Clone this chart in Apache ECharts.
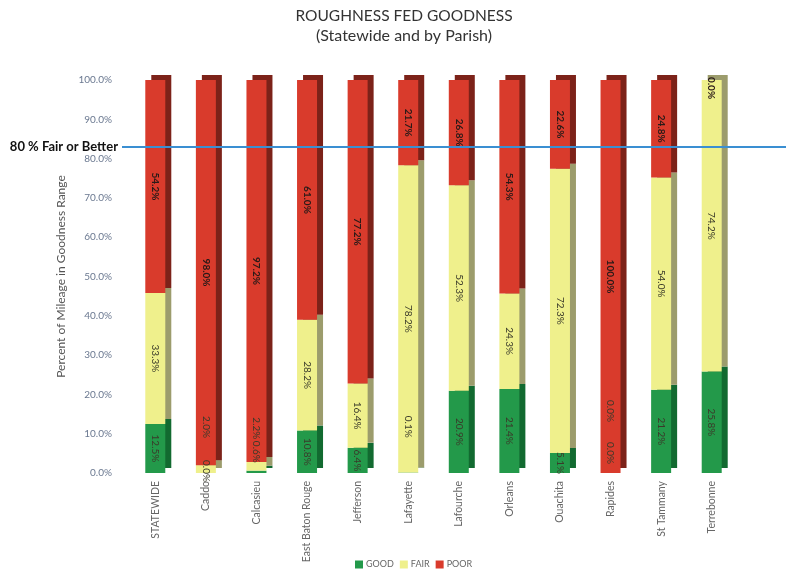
<!DOCTYPE html>
<html><head><meta charset="utf-8">
<script src="https://cdn.jsdelivr.net/npm/echarts@6/dist/echarts.min.js"></script>
<style>html,body{margin:0;padding:0;background:#fff}#c{width:786px;height:572px}</style>
</head><body><div id="c"></div>
<script>
var categories = ['STATEWIDE','Caddo','Calcasieu','East Baton Rouge','Jefferson','Lafayette','Lafourche','Orleans','Ouachita','Rapides','St Tammany','Terrebonne'];
var good = [12.5, 0.0, 0.6, 10.8, 6.4, 0.1, 20.9, 21.4, 5.1, 0.0, 21.2, 25.8];
var fair = [33.3, 2.0, 2.2, 28.2, 16.4, 78.2, 52.3, 24.3, 72.3, 0.0, 54.0, 74.2];
var poor = [54.2, 98.0, 97.2, 61.0, 77.2, 21.7, 26.8, 54.3, 22.6, 100.0, 24.8, 0.0];
var yTicks = [0,10,20,30,40,50,60,70,80,90,100];
var targetLine = 83;
var targetLabel = '80 % Fair or Better';

// style: vertical label shifts (px, screen, negative = up) for labels of tiny segments
var labelShift = {
  'Caddo|GOOD': -2, 'Caddo|FAIR': -42,
  'Calcasieu|GOOD': -20, 'Calcasieu|FAIR': -38,
  'Lafayette|GOOD': -46,
  'Rapides|GOOD': -20, 'Rapides|FAIR': -62,
  'Terrebonne|POOR': 8
};

function mk(name, vals, face, side, bold) {
  return {
    name: name, type: 'bar', stack: 'all', barWidth: 20,
    xAxisIndex: 0, yAxisIndex: 0,
    itemStyle: { color: face, shadowColor: side, shadowBlur: 0, shadowOffsetX: 6, shadowOffsetY: -5 },
    label: {
      show: true, position: 'inside', rotate: -90,
      fontSize: 10, color: bold ? '#2a1a18' : '#3a3a2a', fontWeight: bold ? 'bold' : 'normal',
      fontFamily: 'Lato',
      formatter: function (p) { return p.value.toFixed(1) + '%'; }
    },
    data: vals.map(function (v, i) {
      var key = categories[i] + '|' + name;
      if (labelShift.hasOwnProperty(key)) {
        return { value: v, label: { offset: [labelShift[key], 0] } };
      }
      return v;
    })
  };
}

var chart = echarts.init(document.getElementById('c'));
chart.setOption({
  animation: false,
  textStyle: { fontFamily: 'Lato' },
  title: {
    text: 'ROUGHNESS FED GOODNESS', subtext: '(Statewide and by Parish)',
    left: 399, top: 3, textAlign: 'center', itemGap: 4,
    textStyle: { fontSize: 15.5, fontWeight: 'normal', color: '#333', fontFamily: 'Lato' },
    subtextStyle: { fontSize: 16, color: '#333', fontFamily: 'Lato' }
  },
  legend: {
    data: ['GOOD','FAIR','POOR'], left: 350, top: 555, itemWidth: 8, itemHeight: 8, itemGap: 6,
    icon: 'rect', textStyle: { fontSize: 9, color: '#666', padding: [0, 0, 0, -2] }
  },
  grid: [
    { left: 130, right: 49, top: 80, bottom: 99 },
    { left: 122, right: 0, top: 80, bottom: 99 }
  ],
  xAxis: [
    { type: 'category', data: categories, gridIndex: 0,
      axisLine: { show: false }, axisTick: { show: false },
      axisLabel: { rotate: 90, fontSize: 10.5, color: '#666', margin: 8, interval: 0 } },
    { type: 'value', gridIndex: 1, min: 0, max: 1, show: false }
  ],
  yAxis: [
    { type: 'value', gridIndex: 0, min: 0, max: 100, interval: 10,
      name: 'Percent of Mileage in Goodness Range', nameLocation: 'middle', nameGap: 60,
      nameTextStyle: { fontSize: 12, color: '#555' },
      axisLine: { show: false }, axisTick: { show: false }, splitLine: { show: false },
      axisLabel: { fontSize: 10, color: '#6a7890', margin: 18, formatter: function (v) { return v.toFixed(1) + '%'; } } },
    { type: 'value', gridIndex: 1, min: 0, max: 100, show: false }
  ],
  series: [
    mk('GOOD', good, '#23994a', '#126a30', false),
    mk('FAIR', fair, '#eff08c', '#9c9c6c', false),
    mk('POOR', poor, '#d93b2c', '#7c2219', true),
    { type: 'line', xAxisIndex: 1, yAxisIndex: 1, data: [], silent: true,
      markLine: { silent: true, symbol: 'none',
        lineStyle: { color: '#3a8fd2', width: 2, type: 'solid' },
        label: { position: 'start', formatter: targetLabel, fontSize: 13, fontWeight: 'bold', color: '#111', distance: 4 },
        data: [{ yAxis: targetLine }] } }
  ]
});
</script></body></html>
